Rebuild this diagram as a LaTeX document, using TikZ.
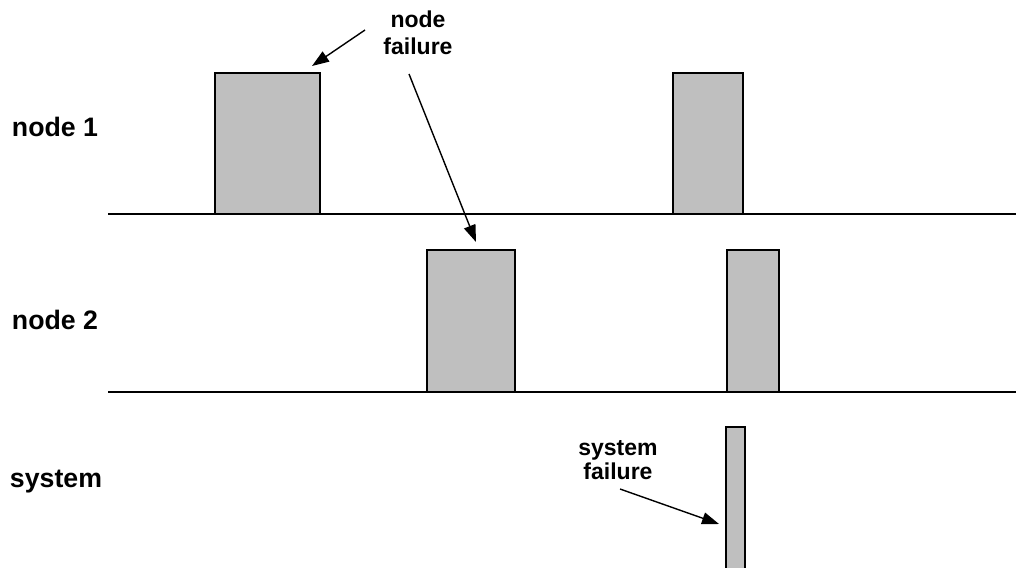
\documentclass[tikz,border=0pt]{standalone}
\usepackage{fontspec}
\setmainfont{Liberation Sans}
\usetikzlibrary{arrows.meta}
\begin{document}
\begin{tikzpicture}[x=1pt,y=-1pt,
  pulse/.style={draw=black,line width=2.3pt,fill=black!25},
  base/.style={line width=2pt},
  rowlabel/.style={font=\fontsize{26.7}{30}\selectfont\bfseries,inner sep=0pt},
  note/.style={font=\fontsize{23}{28}\selectfont\bfseries,align=center,inner sep=0pt},
  pointer/.style={line width=1.4pt,-{Triangle[length=17,width=12]}}]
\useasboundingbox (0,0) rectangle (1016,567);
\clip (0,0) rectangle (1016,567);
% baselines
\draw[base] (108,214) coordinate (b1s) -- (1016,214) coordinate (b1e);
\draw[base] (108,392) coordinate (b2s) -- (1016,392) coordinate (b2e);
% pulses
\draw[pulse] (215,73) rectangle (320,214);
\draw[pulse] (673,73) rectangle (743,214);
\draw[pulse] (427,250) rectangle (515,392);
\draw[pulse] (727,250) rectangle (779,392);
\draw[pulse] (726,427) rectangle (745,580);
% row labels
\node[rowlabel] (n1) at (55,127) {node 1};
\node[rowlabel] (n2) at (55,320) {node 2};
\node[rowlabel] (sys) at (56,482) {system};
% notes
\node[note] (nf) at (418,33) {node\\[-1pt]failure};
\node[note] (sf) at (618,460) {system\\[-4pt]failure};
\coordinate (a1s) at (365,30);
\coordinate (a1e) at (312,66);
\coordinate (a2s) at (409,74);
\coordinate (a2e) at (476,242);
\coordinate (a3s) at (620,489);
\coordinate (a3e) at (719,524);
\draw[pointer] (a1s) -- (a1e);
\draw[pointer] (a2s) -- (a2e);
\draw[pointer] (a3s) -- (a3e);
\end{tikzpicture}
\end{document}
